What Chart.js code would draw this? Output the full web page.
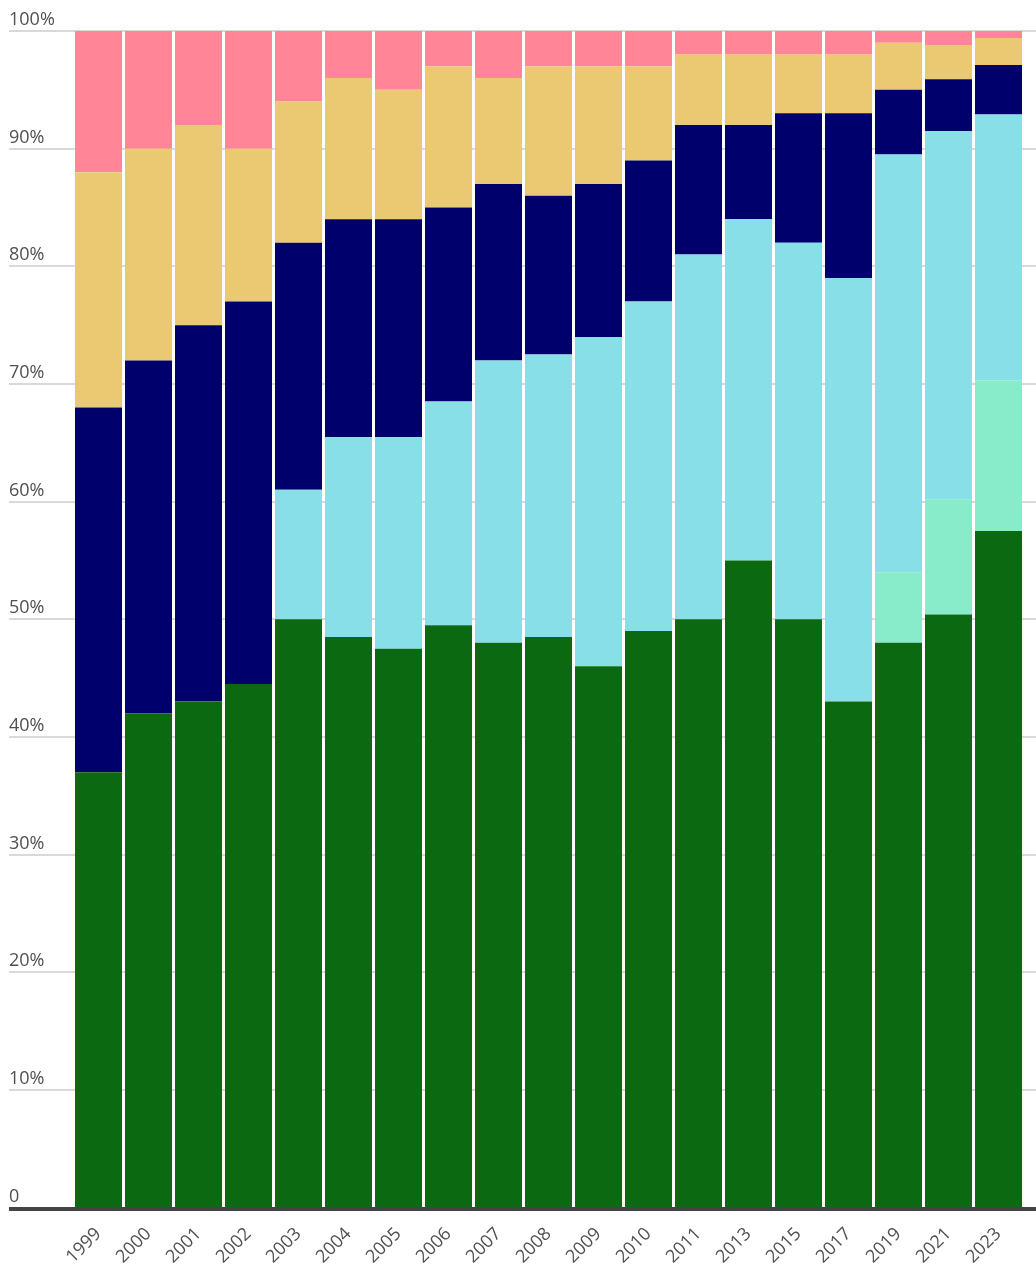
<!DOCTYPE html>
<html>
<head>
<meta charset="utf-8">
<script src="https://cdn.jsdelivr.net/npm/chart.js@4/dist/chart.umd.min.js"></script>
<style>
html,body{margin:0;padding:0;background:#fff;}
#wrap{position:relative;width:1036px;height:1266px;}
</style>
</head>
<body>
<div id="wrap"><canvas id="c"></canvas></div>
<script>
const categories = ["1999","2000","2001","2002","2003","2004","2005","2006","2007","2008","2009","2010","2011","2013","2015","2017","2019","2021","2023"];
const seriesGreen = [37, 42, 43, 44.5, 50, 48.5, 47.5, 49.5, 48, 48.5, 46, 49, 50, 55, 50, 43, 48, 50.4, 57.5];
const seriesMint  = [0, 0, 0, 0, 0, 0, 0, 0, 0, 0, 0, 0, 0, 0, 0, 0, 6, 9.8, 12.8];
const seriesLightBlue = [0, 0, 0, 0, 11, 17, 18, 19, 24, 24, 28, 28, 31, 29, 32, 36, 35.5, 31.3, 22.6];
const seriesNavy  = [31, 30, 32, 32.5, 21, 18.5, 18.5, 16.5, 15, 13.5, 13, 12, 11, 8, 11, 14, 5.5, 4.4, 4.2];
const seriesGold  = [20, 18, 17, 13, 12, 12, 11, 12, 9, 11, 10, 8, 6, 6, 5, 5, 4, 2.9, 2.3];
const seriesPink  = [12, 10, 8, 10, 6, 4, 5, 3, 4, 3, 3, 3, 2, 2, 2, 2, 1, 1.2, 0.6];
const yTickValues = [0,10,20,30,40,50,60,70,80,90,100];
const yTickLabels = ["0","10%","20%","30%","40%","50%","60%","70%","80%","90%","100%"];

const FONT = "'Open Sans', 'DejaVu Sans', sans-serif";

const customAxes = {
  id: 'customAxes',
  beforeDatasetsDraw(chart) {
    const ctx = chart.ctx;
    const y = chart.scales.y;
    const W = chart.width;
    ctx.save();
    ctx.strokeStyle = '#d9d9d9';
    ctx.lineWidth = 2;
    yTickValues.forEach((v, i) => {
      const py = Math.round(y.getPixelForValue(v));
      if (v !== 0) {
        ctx.beginPath();
        ctx.moveTo(9, py);
        ctx.lineTo(W, py);
        ctx.stroke();
      }
      ctx.fillStyle = '#505050';
      ctx.font = "18px " + FONT;
      ctx.textAlign = 'left';
      ctx.textBaseline = 'alphabetic';
      ctx.fillText(yTickLabels[i], 9, py - 6);
    });
    ctx.restore();
  },
  afterDatasetsDraw(chart) {
    const ctx = chart.ctx;
    const y = chart.scales.y;
    const py = y.getPixelForValue(0);
    ctx.save();
    ctx.strokeStyle = '#444444';
    ctx.lineWidth = 4;
    ctx.beginPath();
    ctx.moveTo(9, py + 1.5);
    ctx.lineTo(chart.width, py + 1.5);
    ctx.stroke();
    ctx.restore();
  }
};

function ds(label, data, color) {
  return { label, data, backgroundColor: color, borderWidth: 0, barPercentage: 0.94, categoryPercentage: 1.0 };
}

new Chart(document.getElementById('c'), {
  type: 'bar',
  data: {
    labels: categories,
    datasets: [
      ds('green', seriesGreen, '#0b6912'),
      ds('mint', seriesMint, '#88ebca'),
      ds('lightblue', seriesLightBlue, '#89dfe8'),
      ds('navy', seriesNavy, '#00006c'),
      ds('gold', seriesGold, '#ebc872'),
      ds('pink', seriesPink, '#ff8597')
    ]
  },
  options: {
    responsive: true,
    maintainAspectRatio: false,
    animation: false,
    layout: { padding: { left: 73.5, right: 12.5, top: 31, bottom: 0 } },
    plugins: { legend: { display: false }, tooltip: { enabled: false } },
    scales: {
      x: {
        stacked: true,
        grid: { display: false },
        border: { display: false },
        ticks: {
          minRotation: 45, maxRotation: 45, autoSkip: false,
          color: '#505050', padding: 8,
          font: { family: FONT, size: 18 }
        },
        afterFit(scale) { scale.height = 58.5; }
      },
      y: {
        stacked: true,
        display: false,
        min: 0, max: 100
      }
    }
  },
  plugins: [customAxes]
});
</script>
</body>
</html>
